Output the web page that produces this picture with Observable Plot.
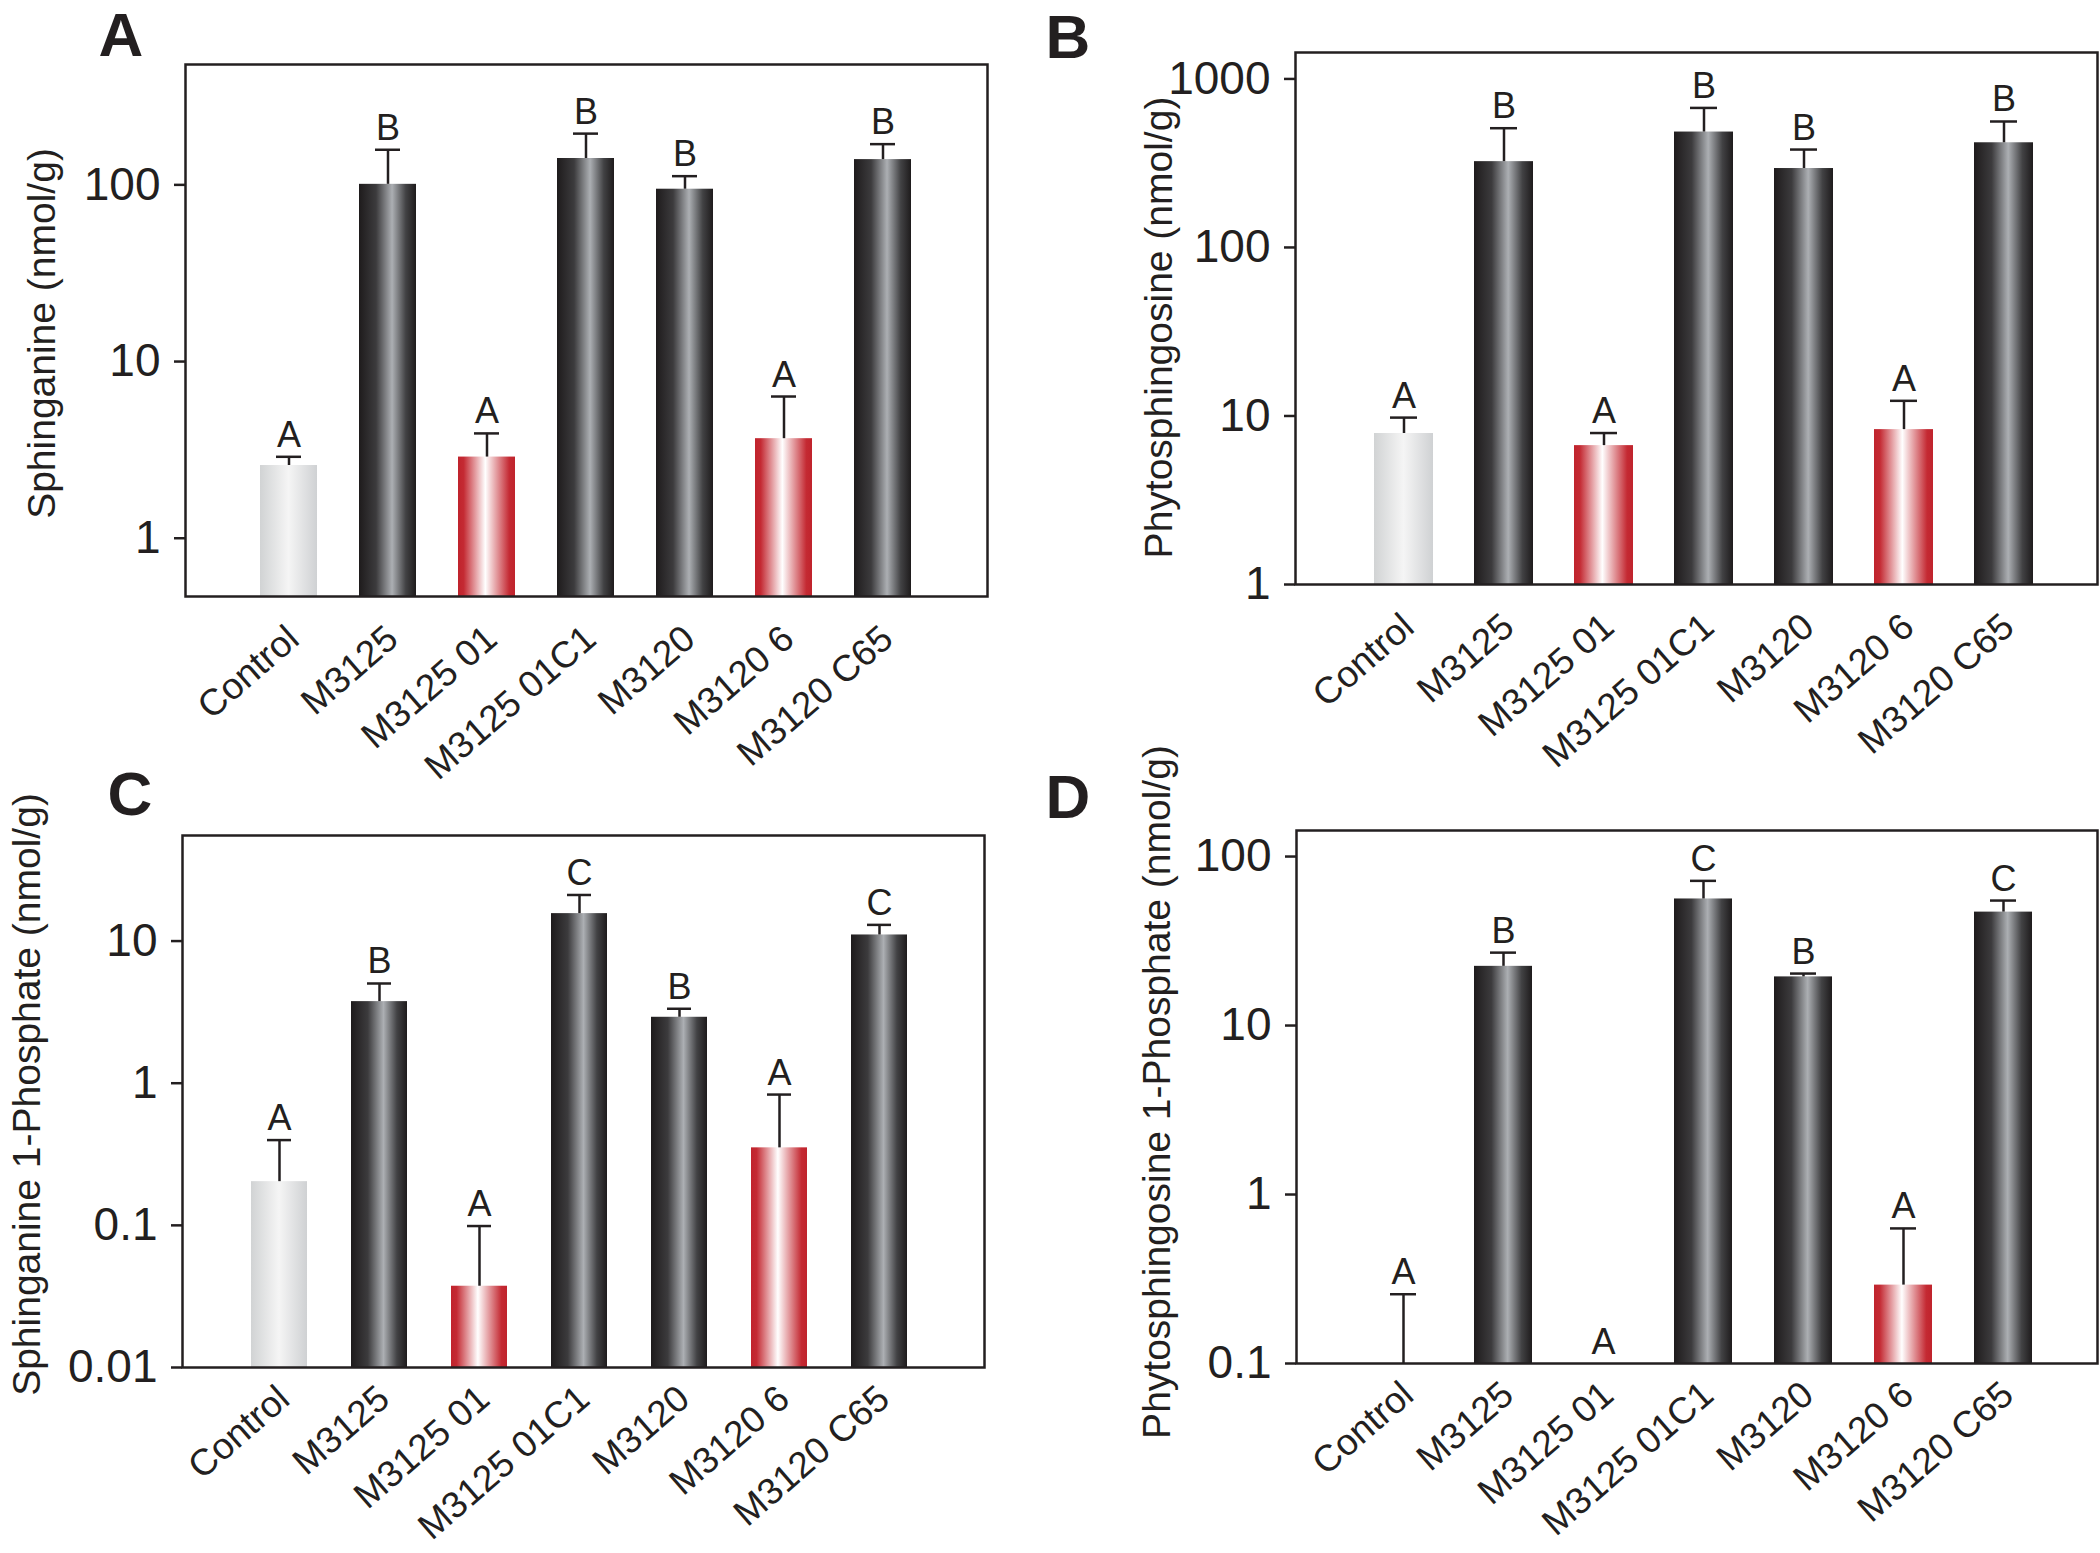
<!DOCTYPE html>
<html><head><meta charset="utf-8">
<script src="https://cdn.jsdelivr.net/npm/d3@7"></script>
<script src="https://cdn.jsdelivr.net/npm/@observablehq/plot@0.6"></script>
<style>
body{margin:0;background:#fff;}
#root{position:relative;width:2100px;height:1553px;overflow:hidden;font-family:"Liberation Sans",Arial,sans-serif;background:#fff;}
.panel{position:absolute;}
</style></head><body>
<svg width="0" height="0" style="position:absolute"><defs>
<linearGradient id="gDark" x1="0" x2="1" y1="0" y2="0">
<stop offset="0" stop-color="#1e1b1c"/><stop offset="0.3" stop-color="#3c3b3d"/><stop offset="0.58" stop-color="#acafb3"/><stop offset="0.82" stop-color="#424244"/><stop offset="1" stop-color="#1e1b1c"/>
</linearGradient>
<linearGradient id="gRed" x1="0" x2="1" y1="0" y2="0">
<stop offset="0" stop-color="#c0232c"/><stop offset="0.1" stop-color="#c42a33"/><stop offset="0.48" stop-color="#ffffff"/><stop offset="0.9" stop-color="#c42a33"/><stop offset="1" stop-color="#c0232c"/>
</linearGradient>
<linearGradient id="gLight" x1="0" x2="1" y1="0" y2="0">
<stop offset="0" stop-color="#d1d3d4"/><stop offset="0.5" stop-color="#f5f5f5"/><stop offset="1" stop-color="#cfd1d3"/>
</linearGradient>
</defs></svg>
<div id="root"></div>
<script>
// ---- data ----
const categories = ["Control","M3125","M3125 01","M3125 01C1","M3120","M3120 6","M3120 C65"];
const barKind = ["light","dark","red","dark","dark","red","dark"];

const sphinganineMean  = [2.58, 100.7, 2.88, 141, 94.5, 3.66, 139];
const sphinganineUpper = [2.89, 158, 3.92, 195, 112, 6.34, 170];
const sphinganineLetters = ["A","B","A","B","B","A","B"];

const phytoMean  = [7.87, 323, 6.67, 484, 294, 8.3, 418];
const phytoUpper = [9.78, 510, 7.92, 673, 381, 12.3, 559];
const phytoLetters = ["A","B","A","B","B","A","B"];

const s1pMean  = [0.203, 3.75, 0.0373, 15.6, 2.91, 0.351, 11.04];
const s1pUpper = [0.398, 5.03, 0.0989, 21.1, 3.34, 0.832, 13.0];
const s1pLetters = ["A","B","A","C","B","A","C"];

const p1pMean  = [0, 22.4, 0, 56.1, 19.4, 0.291, 46.9];
const p1pUpper = [0.257, 27, 0, 71.8, 20.3, 0.63, 54.9];
const p1pLetters = ["A","B","A","C","B","A","C"];

const ticksA = [1, 10, 100];
const ticksB = [1, 10, 100, 1000];
const ticksC = [0.01, 0.1, 1, 10];
const ticksD = [0.1, 1, 10, 100];

const panelLetters = ["A","B","C","D"];
const yLabels = ["Sphinganine (nmol/g)", "Phytosphingosine (nmol/g)", "Sphinganine 1-Phosphate (nmol/g)", "Phytosphingosine 1-Phosphate (nmol/g)"];

// ---- layout ----
const panels = [
  {mean: sphinganineMean, upper: sphinganineUpper, letters: sphinganineLetters, ticks: ticksA, domain: [0.468, 480],
   left: 0, top: 0, width: 1040, height: 760, mt: 64, mr: 53, mb: 164, ml: 185, pi: 0.42, po: 0.728, align: 0.5, ldx: -143, ldy: 3,
   pdx: -87, pdy: -53, xdy: 26},
  {mean: phytoMean, upper: phytoUpper, letters: phytoLetters, ticks: ticksB, domain: [1, 1435],
   left: 1050, top: 0, width: 1050, height: 760, mt: 52, mr: 3, mb: 176, ml: 245, pi: 0.41, po: 0.715, align: 0.55, ldx: -136, ldy: 9,
   pdx: -250, pdy: -39, xdy: 26},
  {mean: s1pMean, upper: s1pUpper, letters: s1pLetters, ticks: ticksC, domain: [0.01, 55.3],
   left: 0, top: 760, width: 1040, height: 793, mt: 75, mr: 56, mb: 186, ml: 182, pi: 0.44, po: 0.725, align: 0.476, ldx: -155, ldy: -7,
   pdx: -75, pdy: -65, xdy: 15},
  {mean: p1pMean, upper: p1pUpper, letters: p1pLetters, ticks: ticksD, domain: [0.1, 142.6],
   left: 1050, top: 760, width: 1050, height: 793, mt: 70, mr: 3, mb: 190, ml: 246, pi: 0.42, po: 0.715, align: 0.545, ldx: -139, ldy: -5,
   pdx: -251, pdy: -57, xdy: 15}
];

const ink = "#231f20";
const root = document.getElementById("root");

panels.forEach((p, i) => {
  const lo = p.domain[0];
  const rows = categories.map((c, k) => ({cat: c, kind: barKind[k], mean: p.mean[k], upper: p.upper[k], letter: p.letters[k]}));
  const grad = {dark: "url(#gDark)", red: "url(#gRed)", light: "url(#gLight)"};
  const barMarks = Object.keys(grad).map(kind =>
    Plot.barY(rows, {filter: d => d.kind === kind && d.mean > lo, x: "cat", y1: lo, y2: "mean", fill: grad[kind]}));
  const chart = Plot.plot({
    width: p.width, height: p.height,
    marginTop: p.mt, marginRight: p.mr, marginBottom: p.mb, marginLeft: p.ml,
    style: {fontFamily: "'Liberation Sans', Arial, sans-serif", background: "transparent", overflow: "visible", color: ink},
    x: {type: "band", domain: categories, paddingInner: p.pi, paddingOuter: p.po, align: p.align, axis: null},
    y: {type: "log", domain: p.domain, axis: null},
    marks: [
      ...barMarks,
      Plot.ruleX(rows, {filter: d => d.upper > lo, x: "cat", y1: d => Math.max(d.mean, lo), y2: "upper", stroke: ink, strokeWidth: 2.5}),
      Plot.tickY(rows, {filter: d => d.upper > lo, x: "cat", y: "upper", stroke: ink, strokeWidth: 2.5, insetLeft: 16, insetRight: 16}),
      Plot.text(rows, {x: "cat", y: d => Math.max(d.upper, lo), text: "letter", lineAnchor: "bottom", dy: -10, fontSize: 36, fill: ink}),
      Plot.frame({stroke: ink, strokeWidth: 2.5}),
      Plot.axisY({ticks: p.ticks, tickFormat: d => String(d), tickSize: 11, tickPadding: 14, fontSize: 46, strokeWidth: 2.5, stroke: ink, fill: ink, label: null}),
      Plot.text(rows, {x: "cat", frameAnchor: "bottom", text: "cat", rotate: -41, textAnchor: "end", lineAnchor: "top", dx: -5, dy: p.xdy, fontSize: 37, fill: ink}),
      Plot.text([yLabels[i]], {frameAnchor: "left", text: d => d, rotate: -90, textAnchor: "middle", lineAnchor: "middle", dx: p.ldx, dy: p.ldy, fontSize: 39, fill: ink}),
      Plot.text([panelLetters[i]], {frameAnchor: "top-left", text: d => d, textAnchor: "start", lineAnchor: "top", dx: p.pdx, dy: p.pdy, fontSize: 62, fontWeight: "bold", fill: ink})
    ]
  });
  const div = document.createElement("div");
  div.className = "panel";
  div.style.left = p.left + "px";
  div.style.top = p.top + "px";
  div.appendChild(chart);
  root.appendChild(div);
});
</script>
</body></html>
